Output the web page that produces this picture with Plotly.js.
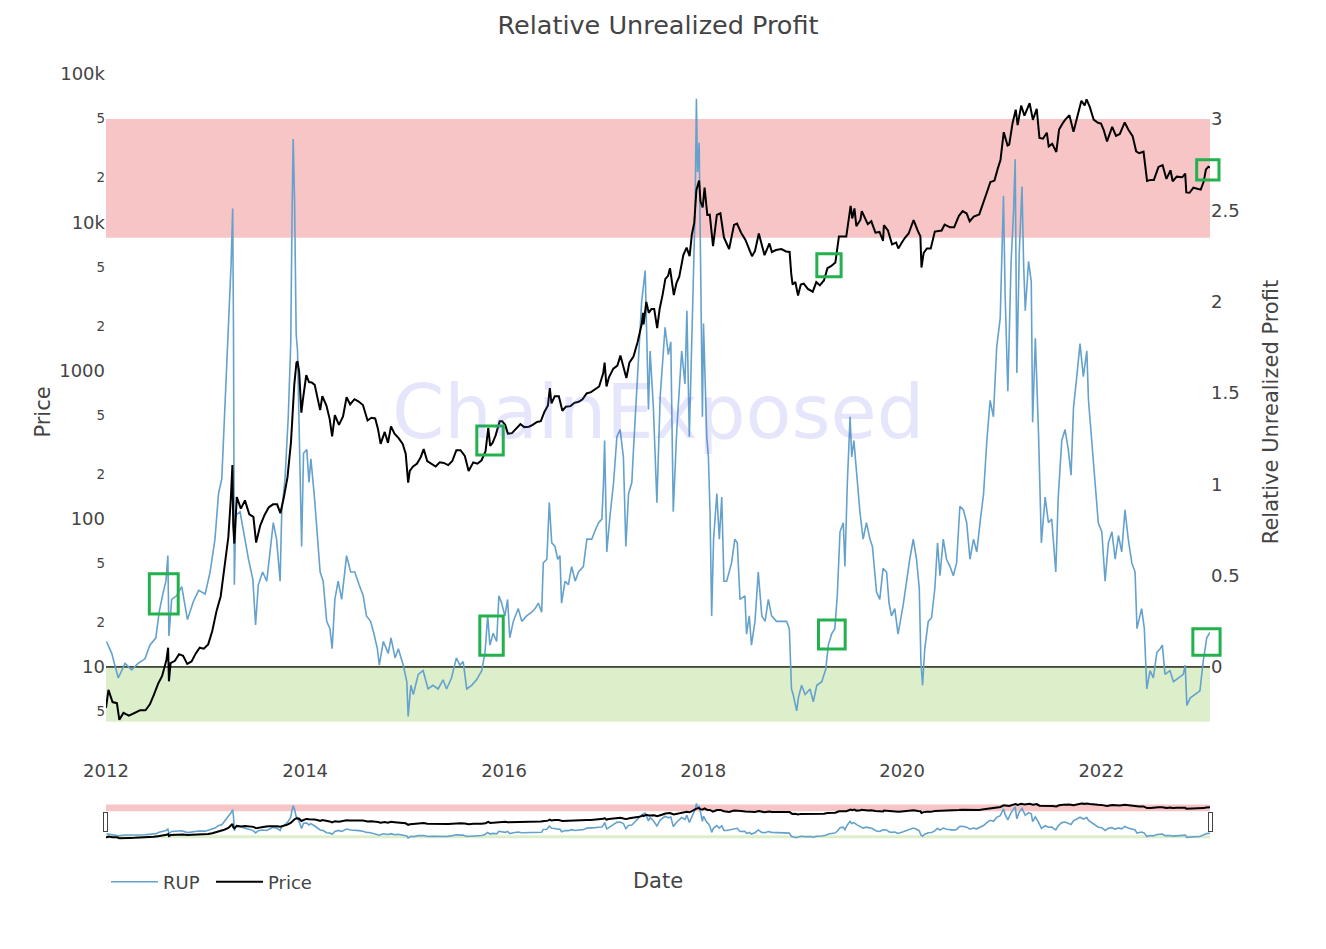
<!DOCTYPE html>
<html>
<head>
<meta charset="utf-8">
<script src="https://cdn.plot.ly/plotly-3.0.1.min.js"></script>
<style>
  html, body { margin: 0; padding: 0; background: #ffffff; }
  #chart { width: 1326px; height: 949px; }
</style>
</head>
<body>
<div id="chart"></div>
<script>
// ---------------- data ----------------
const rupDates = [
'2012-01-03','2012-01-22','2012-02-15','2012-03-11','2012-04-04','2012-04-28','2012-05-23','2012-06-10','2012-07-02','2012-07-14',
'2012-07-29','2012-08-08','2012-08-15','2012-08-19','2012-08-29','2012-09-16','2012-10-05','2012-10-26','2012-11-17','2012-12-06',
'2012-12-30','2013-01-17','2013-02-04','2013-02-17','2013-03-01','2013-03-09','2013-03-19','2013-03-29','2013-04-04','2013-04-10',
'2013-04-13','2013-04-16','2013-04-21','2013-05-07','2013-05-22','2013-06-07','2013-06-23','2013-07-03','2013-07-13','2013-07-29',
'2013-08-13','2013-08-27','2013-09-06','2013-09-18','2013-10-01','2013-10-07','2013-10-19','2013-10-31','2013-11-09','2013-11-14',
'2013-11-18','2013-11-23','2013-11-29','2013-12-04','2013-12-09','2013-12-14','2013-12-19','2013-12-26','2014-01-07','2014-01-15',
'2014-01-22','2014-02-04','2014-02-15','2014-02-25','2014-03-08','2014-03-21','2014-04-02','2014-04-10','2014-04-20','2014-05-02',
'2014-05-15','2014-06-02','2014-06-17','2014-07-02','2014-07-18','2014-08-02','2014-08-14','2014-08-29','2014-09-10','2014-09-23',
'2014-09-30','2014-10-15','2014-11-02','2014-11-12','2014-11-27','2014-12-09','2014-12-27','2015-01-09','2015-01-14','2015-01-24',
'2015-02-02','2015-02-20','2015-03-10','2015-03-28','2015-04-15','2015-05-04','2015-05-22','2015-06-04','2015-06-22','2015-07-10',
'2015-07-23','2015-08-04','2015-08-17','2015-09-04','2015-09-22','2015-10-11','2015-10-23','2015-11-02','2015-11-10','2015-11-22',
'2015-12-05','2015-12-13','2015-12-23','2016-01-04','2016-01-14','2016-01-22','2016-02-04','2016-02-22','2016-03-06','2016-03-24',
'2016-04-11','2016-04-24','2016-05-06','2016-05-18','2016-05-24','2016-06-06','2016-06-15','2016-06-24','2016-07-06','2016-07-16',
'2016-07-24','2016-07-30','2016-08-12','2016-08-24','2016-09-05','2016-09-18','2016-09-30','2016-10-18','2016-10-31','2016-11-18',
'2016-12-01','2016-12-13','2016-12-25','2016-12-31','2017-01-04','2017-01-12','2017-01-24','2017-02-06','2017-02-18','2017-03-02',
'2017-03-14','2017-03-23','2017-04-02','2017-04-14','2017-04-20','2017-05-02','2017-05-08','2017-05-20','2017-06-02','2017-06-14',
'2017-06-20','2017-07-02','2017-07-15','2017-07-27','2017-08-14','2017-08-26','2017-09-04','2017-09-13','2017-09-26','2017-10-14',
'2017-10-26','2017-11-02','2017-11-11','2017-11-20','2017-11-26','2017-12-02','2017-12-07','2017-12-11','2017-12-17','2017-12-21',
'2017-12-25','2017-12-29','2018-01-02','2018-01-08','2018-01-14','2018-01-20','2018-01-26','2018-02-01','2018-02-08','2018-02-20',
'2018-03-01','2018-03-10','2018-03-18','2018-03-28','2018-04-15','2018-04-27','2018-05-06','2018-05-16','2018-06-03','2018-06-09',
'2018-06-19','2018-06-27','2018-07-10','2018-07-22','2018-08-04','2018-08-16','2018-08-28','2018-09-09','2018-09-27','2018-10-16',
'2018-11-03','2018-11-13','2018-11-21','2018-11-27','2018-12-10','2018-12-16','2018-12-28','2019-01-10','2019-01-28','2019-02-09',
'2019-02-22','2019-03-12','2019-03-27','2019-04-05','2019-04-17','2019-04-29','2019-05-08','2019-05-18','2019-05-30','2019-06-05',
'2019-06-14','2019-06-24','2019-06-30','2019-07-08','2019-07-18','2019-07-30','2019-08-11','2019-08-23','2019-09-05','2019-09-14',
'2019-09-29','2019-10-11','2019-10-23','2019-11-05','2019-11-14','2019-11-23','2019-12-05','2019-12-17','2020-01-05','2020-01-17',
'2020-01-29','2020-02-11','2020-02-23','2020-03-04','2020-03-10','2020-03-16','2020-03-24','2020-04-06','2020-04-18','2020-04-30',
'2020-05-10','2020-05-19','2020-05-31','2020-06-12','2020-06-25','2020-07-07','2020-07-19','2020-07-31','2020-08-13','2020-08-25',
'2020-09-06','2020-09-19','2020-10-01','2020-10-13','2020-10-26','2020-11-07','2020-11-19','2020-12-01','2020-12-13','2020-12-26',
'2021-01-07','2021-01-13','2021-01-23','2021-02-04','2021-02-13','2021-02-19','2021-02-25','2021-03-06','2021-03-16','2021-03-22',
'2021-03-28','2021-04-09','2021-04-19','2021-04-24','2021-05-04','2021-05-16','2021-05-26','2021-06-09','2021-06-21','2021-07-03',
'2021-07-18','2021-07-27','2021-08-09','2021-08-21','2021-09-02','2021-09-12','2021-09-21','2021-10-03','2021-10-15','2021-10-27',
'2021-11-09','2021-11-15','2021-11-27','2021-12-09','2021-12-21','2022-01-03','2022-01-15','2022-01-27','2022-02-09','2022-02-21',
'2022-03-05','2022-03-17','2022-03-29','2022-04-10','2022-04-23','2022-05-05','2022-05-12','2022-05-29','2022-06-08','2022-06-17',
'2022-06-29','2022-07-11','2022-07-24','2022-08-05','2022-08-13','2022-08-23','2022-09-10','2022-09-23','2022-10-11','2022-10-29',
'2022-11-05','2022-11-11','2022-11-23','2022-12-11','2022-12-29','2023-01-10','2023-01-23','2023-02-04'
];
const rupValues = [
0.14,0.075,-0.06,0.02,-0.015,0.02,0.045,0.12,0.16,0.30,
0.41,0.47,0.61,0.17,0.37,0.39,0.44,0.26,0.36,0.42,
0.40,0.52,0.70,0.95,1.03,1.30,1.71,2.00,2.20,2.51,
1.82,0.45,0.83,0.85,0.72,0.59,0.48,0.23,0.45,0.52,
0.47,0.66,0.79,0.70,0.47,0.85,1.03,1.37,1.77,2.49,
2.89,2.56,1.82,1.73,1.40,0.93,0.66,1.17,1.19,1.01,
1.14,0.93,0.70,0.52,0.47,0.25,0.21,0.10,0.37,0.47,
0.37,0.61,0.52,0.52,0.45,0.39,0.28,0.25,0.185,0.10,
0.01,0.14,0.075,0.16,0.05,0.10,0.01,-0.08,-0.27,-0.10,
-0.15,-0.04,-0.02,-0.12,-0.10,-0.12,-0.07,-0.12,-0.06,0.05,
0.01,0.03,-0.12,-0.10,-0.07,-0.02,0.08,0.28,0.12,0.185,
0.14,0.39,0.35,0.28,0.37,0.16,0.25,0.32,0.25,0.28,
0.30,0.32,0.35,0.30,0.57,0.59,0.90,0.68,0.66,0.59,
0.61,0.35,0.47,0.45,0.55,0.47,0.52,0.55,0.70,0.70,
0.75,0.79,0.81,1.01,1.24,0.63,0.83,1.01,1.26,1.30,
1.15,0.66,0.95,1.01,1.19,1.53,1.73,2.00,2.17,1.41,
1.73,1.42,0.90,1.48,1.86,1.71,1.78,0.85,1.30,1.73,
1.55,1.95,1.26,1.86,2.15,2.49,3.11,2.71,2.87,2.42,
1.71,1.37,1.88,1.59,1.26,1.15,0.85,0.28,0.70,0.95,
0.70,0.93,0.47,0.47,0.57,0.70,0.68,0.37,0.39,0.18,
0.28,0.12,0.25,0.52,0.28,0.25,0.37,0.28,0.25,0.25,
0.25,0.21,-0.12,-0.15,-0.24,-0.17,-0.10,-0.15,-0.12,-0.19,
-0.10,-0.08,-0.01,0.12,0.18,0.21,0.39,0.74,0.79,0.55,
1.01,1.37,1.15,1.24,1.04,0.85,0.70,0.79,0.70,0.66,
0.41,0.37,0.54,0.52,0.35,0.28,0.32,0.18,0.34,0.47,
0.59,0.70,0.59,0.43,0.03,-0.10,0.10,0.25,0.27,0.43,
0.68,0.50,0.70,0.59,0.55,0.50,0.57,0.88,0.86,0.79,
0.59,0.70,0.63,0.79,0.95,1.24,1.46,1.37,1.75,1.91,
2.58,2.04,1.51,2.22,2.49,2.78,1.61,2.27,2.63,2.20,
1.95,2.22,2.11,1.34,1.80,1.26,0.68,0.93,0.79,0.81,
0.52,0.93,1.24,1.30,1.19,1.05,1.42,1.59,1.77,1.59,
1.73,1.46,1.24,1.03,0.79,0.74,0.47,0.68,0.74,0.59,
0.72,0.63,0.86,0.70,0.57,0.52,0.21,0.32,0.21,-0.12,
-0.02,-0.06,0.08,0.10,0.12,-0.04,-0.02,-0.08,-0.06,-0.04,
0.01,-0.21,-0.17,-0.15,-0.13,0.03,0.16,0.19
];

const priceDates = [
'2012-01-01','2012-01-10','2012-01-25','2012-02-10','2012-02-19','2012-03-05','2012-03-25','2012-04-15','2012-05-05','2012-05-25',
'2012-06-10','2012-06-25','2012-07-10','2012-07-25','2012-08-10','2012-08-16','2012-08-19','2012-08-25','2012-09-10','2012-09-25',
'2012-10-10','2012-10-25','2012-11-10','2012-11-25','2012-12-10','2012-12-25','2013-01-10','2013-01-25','2013-02-10','2013-02-25',
'2013-03-10','2013-03-25','2013-04-03','2013-04-09','2013-04-12','2013-04-16','2013-04-25','2013-05-10','2013-05-25','2013-06-10',
'2013-06-25','2013-07-05','2013-07-20','2013-08-05','2013-08-20','2013-09-05','2013-09-20','2013-10-02','2013-10-15','2013-10-28',
'2013-11-10','2013-11-18','2013-11-22','2013-11-30','2013-12-04','2013-12-10','2013-12-18','2013-12-25','2014-01-05','2014-01-15',
'2014-01-25','2014-02-05','2014-02-18','2014-02-25','2014-03-05','2014-03-20','2014-04-01','2014-04-10','2014-04-20','2014-05-05',
'2014-05-20','2014-06-02','2014-06-15','2014-07-01','2014-07-15','2014-08-01','2014-08-18','2014-09-01','2014-09-15','2014-09-25',
'2014-10-05','2014-10-20','2014-11-01','2014-11-12','2014-11-25','2014-12-10','2014-12-25','2015-01-05','2015-01-14','2015-01-20',
'2015-02-01','2015-02-15','2015-03-01','2015-03-12','2015-03-25','2015-04-10','2015-04-25','2015-05-10','2015-05-25','2015-06-10',
'2015-06-25','2015-07-10','2015-07-25','2015-08-10','2015-08-24','2015-09-10','2015-09-25','2015-10-10','2015-10-25','2015-11-04',
'2015-11-11','2015-11-20','2015-12-01','2015-12-16','2015-12-25','2016-01-05','2016-01-15','2016-01-30','2016-02-15','2016-03-01',
'2016-03-15','2016-04-01','2016-04-15','2016-05-01','2016-05-15','2016-05-28','2016-06-10','2016-06-17','2016-06-23','2016-07-05',
'2016-07-20','2016-08-02','2016-08-15','2016-09-01','2016-09-15','2016-10-01','2016-10-15','2016-10-30','2016-11-15','2016-12-01',
'2016-12-15','2016-12-30','2017-01-04','2017-01-11','2017-01-20','2017-02-05','2017-02-20','2017-03-03','2017-03-18','2017-03-25',
'2017-04-05','2017-04-20','2017-05-05','2017-05-20','2017-05-25','2017-05-27','2017-06-06','2017-06-15','2017-06-25','2017-07-05',
'2017-07-16','2017-07-25','2017-08-05','2017-08-15','2017-08-25','2017-09-01','2017-09-15','2017-09-25','2017-10-05','2017-10-20',
'2017-11-01','2017-11-12','2017-11-20','2017-11-29','2017-12-07','2017-12-17','2017-12-22','2017-12-30','2018-01-06','2018-01-16',
'2018-01-25','2018-02-06','2018-02-20','2018-03-05','2018-03-18','2018-04-01','2018-04-06','2018-04-24','2018-05-05','2018-05-20',
'2018-06-05','2018-06-29','2018-07-10','2018-07-24','2018-08-05','2018-08-14','2018-09-01','2018-09-10','2018-09-25','2018-10-15',
'2018-11-01','2018-11-14','2018-11-20','2018-11-25','2018-12-05','2018-12-15','2018-12-25','2019-01-05','2019-01-20','2019-02-07',
'2019-02-20','2019-03-05','2019-03-20','2019-04-02','2019-04-15','2019-05-01','2019-05-14','2019-05-25','2019-06-10','2019-06-26',
'2019-07-02','2019-07-10','2019-07-17','2019-08-01','2019-08-06','2019-08-28','2019-09-10','2019-09-25','2019-10-10','2019-10-23',
'2019-10-26','2019-11-10','2019-11-25','2019-12-10','2019-12-18','2019-12-30','2020-01-10','2020-01-25','2020-02-12','2020-02-28',
'2020-03-08','2020-03-12','2020-03-20','2020-04-01','2020-04-15','2020-04-30','2020-05-10','2020-05-25','2020-06-05','2020-06-25',
'2020-07-10','2020-07-27','2020-08-10','2020-08-25','2020-09-05','2020-09-20','2020-10-10','2020-10-21','2020-11-05','2020-11-20',
'2020-12-05','2020-12-17','2020-12-27','2021-01-08','2021-01-22','2021-01-28','2021-02-09','2021-02-21','2021-02-28','2021-03-13',
'2021-03-25','2021-04-13','2021-04-25','2021-05-09','2021-05-19','2021-06-01','2021-06-15','2021-06-22','2021-07-05','2021-07-20',
'2021-07-30','2021-08-14','2021-08-22','2021-09-06','2021-09-21','2021-10-01','2021-10-20','2021-11-01','2021-11-08','2021-11-20',
'2021-12-04','2021-12-20','2021-12-31','2022-01-10','2022-01-22','2022-02-10','2022-02-24','2022-03-10','2022-03-28','2022-04-10',
'2022-04-26','2022-05-09','2022-05-20','2022-06-05','2022-06-13','2022-06-18','2022-07-01','2022-07-13','2022-07-30','2022-08-14',
'2022-08-28','2022-09-12','2022-09-20','2022-10-05','2022-10-25','2022-11-05','2022-11-09','2022-11-21','2022-12-05','2022-12-20',
'2023-01-01','2023-01-12','2023-01-20','2023-01-29','2023-02-04'
];
const priceValues = [
5.3,7.0,5.8,5.7,4.4,4.9,4.7,4.9,5.1,5.1,
5.6,6.5,7.7,8.7,11.2,13.5,8.0,10.6,11.0,12.2,
11.9,10.5,10.9,12.3,13.5,13.3,14.2,17.5,24,30,
46,75,135,230,90,68,140,117,133,107,
103,69,90,106,119,125,125,109,140,190,
330,700,800,1130,1150,980,520,665,930,835,
830,800,630,540,670,580,470,360,500,430,
490,660,590,640,620,585,460,480,475,405,
320,385,325,420,375,350,320,275,175,210,
225,235,260,295,245,235,225,240,238,230,
245,290,290,265,210,240,235,247,285,410,
310,325,365,455,455,430,375,378,405,435,
415,418,430,450,455,525,580,760,600,670,
670,535,570,575,605,615,640,700,715,750,
780,960,1130,780,900,1030,1080,1260,970,890,
1130,1240,1550,2050,2450,2050,2900,2450,2600,2600,
1930,2600,3250,4150,4350,4900,3230,3900,4300,6000,
6750,5900,8200,9900,16500,19100,13800,12600,17100,11200,
11250,6900,11200,11500,7900,6850,6600,9600,9800,8500,
7600,5900,6400,8400,7000,6000,7200,6300,6500,6600,
6350,6300,4500,3800,3950,3200,3800,3850,3550,3400,
3950,3750,4050,4900,5050,5350,8000,8000,8000,12900,
10600,12400,9400,10400,11900,9700,10150,8500,8600,7500,
9550,8800,7100,7300,6650,7250,7800,8400,10350,8700,
8050,4950,6200,6650,6650,8650,8750,8800,9650,9250,
9250,11000,11900,11450,10150,10900,11300,12800,15500,18700,
19100,23000,26300,40500,32900,33400,46300,57400,45200,61200,
52300,63500,49000,58300,37000,36600,40200,32500,33800,29800,
42200,47000,49300,52700,40700,48200,66000,61300,67500,59700,
49300,46900,46300,41900,35100,44000,38300,39400,47100,42200,
38100,30100,29200,29900,22500,19000,19300,19300,23600,24300,
19600,22400,18900,20300,20100,21300,15900,15800,17100,16900,
16600,18800,22700,23700,23400
];

// shaded zones on the RUP axis
const zoneDates = ['2012-01-01', '2023-02-04'];
const euphoriaZone = [2.35, 3.0];   // red
const capitulationZone = [-0.3, 0]; // green

// highlighted spots (green boxes)
const boxStart = ['2012-06-08','2015-10-04','2019-02-28','2022-12-03','2015-09-23','2019-02-22','2022-12-17'];
const boxEnd   = ['2012-09-22','2015-12-29','2019-06-06','2023-03-13','2015-12-29','2019-05-22','2023-03-09'];
const boxLow   = [0.29, 0.064, 0.099, 0.064, 269, 4290, 19300];
const boxHigh  = [0.51, 0.28, 0.257, 0.209, 423, 6120, 26400];
const boxAxis  = ['y','y','y','y','y2','y2','y2'];

// axis ranges
const xRange = ['2012-01-01', '2023-02-04'];
const rupRange = [-0.465, 3.257];
const priceLogRange = [0.4265, 5.0135];

// ---------------- figure ----------------
const FONT = 'DejaVu Sans, Verdana, sans-serif';
const TXT = '#444';

function band(vals, color) {
  return {
    x: [zoneDates[0], zoneDates[1], zoneDates[1], zoneDates[0], zoneDates[0]],
    y: [vals[0], vals[0], vals[1], vals[1], vals[0]],
    yaxis: 'y', fill: 'toself', fillcolor: color, mode: 'lines',
    line: {width: 0, color: 'rgba(0,0,0,0)'}, showlegend: false, hoverinfo: 'skip'
  };
}

const traces = [
  band(euphoriaZone, 'rgba(235,110,110,0.4)'),
  band(capitulationZone, 'rgba(144,200,80,0.3)'),
  { x: rupDates, y: rupValues, name: 'RUP', yaxis: 'y', mode: 'lines',
    line: {color: 'rgb(100,162,205)', width: 1.6} },
  { x: priceDates, y: priceValues, name: 'Price', yaxis: 'y2', mode: 'lines',
    line: {color: '#000000', width: 2} }
];

const shapes = boxStart.map((s, i) => ({
  type: 'rect', xref: 'x', yref: boxAxis[i],
  x0: s, x1: boxEnd[i], y0: boxLow[i], y1: boxHigh[i],
  line: {color: '#22b14c', width: 3}, fillcolor: 'rgba(0,0,0,0)', layer: 'above'
}));

const layout = {
  width: 1326, height: 949,
  paper_bgcolor: '#ffffff', plot_bgcolor: '#ffffff',
  font: {family: FONT, color: TXT, size: 18},
  margin: {l: 106, r: 116, t: 72, b: 197, autoexpand: false},
  title: {text: 'Relative Unrealized Profit', font: {family: FONT, size: 25.5, color: TXT},
          x: 0.5, xref: 'paper', xanchor: 'center', y: 1 - 25/949, yref: 'container', yanchor: 'middle'},
  showlegend: true,
  legend: {orientation: 'h', x: 0, xanchor: 'left', xref: 'paper', y: 1 - 882/949, yref: 'container', yanchor: 'middle',
           font: {family: FONT, size: 18, color: TXT}, itemwidth: 47, entrywidth: 43, bgcolor: 'rgba(0,0,0,0)'},
  xaxis: {
    type: 'date', range: xRange, showgrid: false, zeroline: false, showline: false,
    dtick: 'M24', tick0: '2012-01-01', tickformat: '%Y',
    ticks: 'outside', ticklen: 2, tickcolor: 'rgba(0,0,0,0)',
    tickfont: {family: FONT, size: 18, color: TXT},
    title: {text: 'Date', font: {family: FONT, size: 21, color: TXT}},
    rangeslider: {visible: true, range: xRange, thickness: 0.056, bgcolor: '#ffffff',
                  borderwidth: 12, bordercolor: '#ffffff'}
  },
  yaxis: {
    side: 'right', range: rupRange, dtick: 0.5, showgrid: false, showline: false,
    zeroline: true, zerolinecolor: '#444', zerolinewidth: 2,
    tickfont: {family: FONT, size: 18, color: TXT},
    title: {text: 'Relative Unrealized Profit', font: {family: FONT, size: 21, color: TXT}, standoff: 24}
  },
  yaxis2: {
    overlaying: 'y', side: 'left', type: 'log', range: priceLogRange, dtick: 'D2',
    showgrid: false, zeroline: false, showline: false,
    tickfont: {family: FONT, size: 18, color: TXT},
    title: {text: 'Price', font: {family: FONT, size: 21, color: TXT}, standoff: 2}
  },
  shapes: shapes,
  annotations: [{
    text: 'ChainExposed', xref: 'paper', yref: 'paper', x: 0.5, y: 0.5,
    xanchor: 'center', yanchor: 'middle', showarrow: false,
    font: {family: FONT, size: 75, color: 'rgba(100,100,240,0.17)'}
  }]
};

function unclipShapes(gd) {
  gd.querySelectorAll('.shapelayer, .shapelayer *').forEach(function (el) {
    el.removeAttribute('clip-path');
    if (el.style) el.style.clipPath = '';
  });
}

Plotly.newPlot('chart', traces, layout, {displayModeBar: false}).then(function (gd) {
  // let the highlight boxes overflow the plot edge as in the reference
  unclipShapes(gd);
  setTimeout(function () { unclipShapes(gd); }, 50);
});
</script>
</body>
</html>
